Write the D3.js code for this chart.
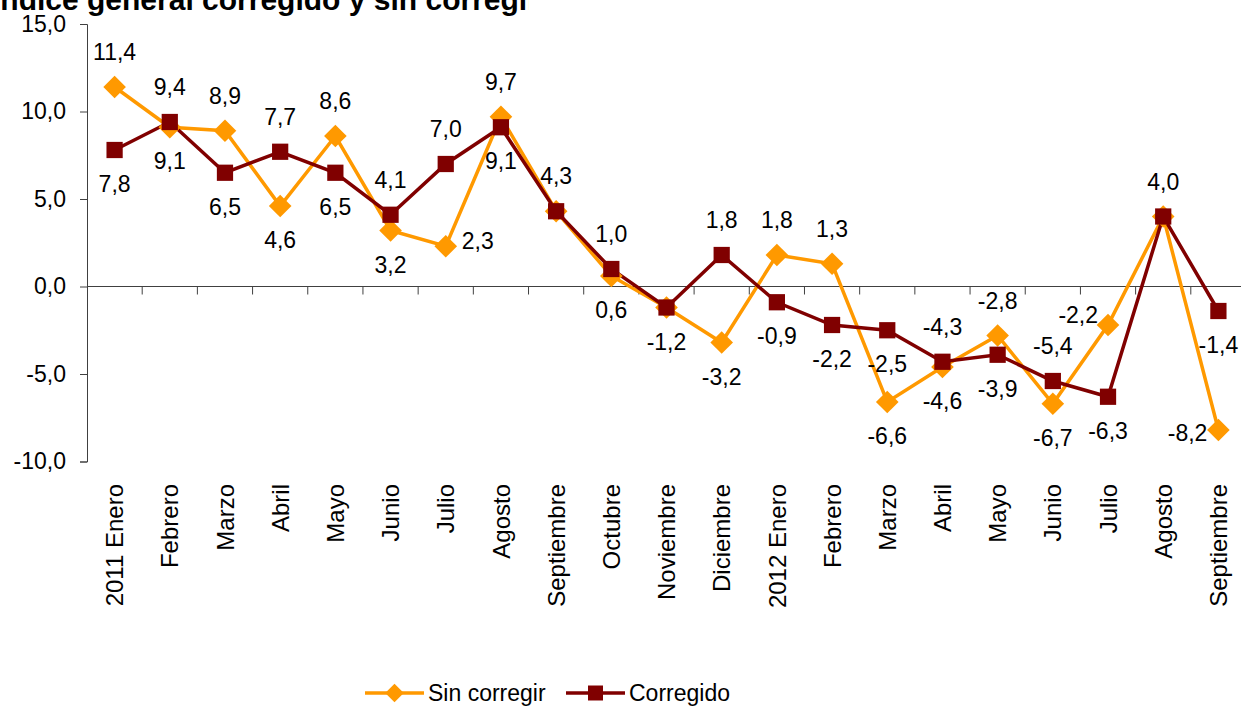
<!DOCTYPE html>
<meta charset="utf-8">
<title>Índice general corregido y sin corregir</title>
<style>
body { margin: 0; background: #fff; font-family: Arial, "Liberation Sans", sans-serif; }
svg { display: block; }
.axis path, .axis line { stroke: #404040; }
.lbl { font-size: 23px; fill: #000; }
</style>
<body>
<div id="chart"></div>
</body>
<script src="https://cdn.jsdelivr.net/npm/d3@7"></script>
<script>

var meses = ['2011 Enero','Febrero','Marzo','Abril','Mayo','Junio','Julio','Agosto','Septiembre',
  'Octubre','Noviembre','Diciembre','2012 Enero','Febrero','Marzo','Abril','Mayo','Junio','Julio',
  'Agosto','Septiembre']
var sinCorregir = [11.4, 9.1, 8.9, 4.6, 8.6, 3.2, 2.3, 9.7, 4.3, 0.6, -1.2, -3.2, 1.8, 1.3, -6.6,
  -4.6, -2.8, -6.7, -2.2, 4.0, -8.2]
var corregido = [7.8, 9.4, 6.5, 7.7, 6.5, 4.1, 7.0, 9.1, 4.3, 1.0, -1.2, 1.8, -0.9, -2.2, -2.5,
  -4.3, -3.9, -5.4, -6.3, 4.0, -1.4]
var yTicks = [-10, -5, 0, 5, 10, 15]

// where each data label sits: a above, b below, r right, l left, ul upper-left, '' none
var posSin = ['a','b','a','b','a','b','r','a','a','b','b','b','a','a','b','b','a','b','ul','a','l']
var posCor = ['b','a','b','a','b','a','a','b','','a','','a','b','b','b','a','b','a','b','','b']

var W = 1241, H = 706
var svg = d3.select('#chart').append('svg').attr('width', W).attr('height', H)

var x = d3.scaleBand().domain(d3.range(meses.length)).range([87, 1246])
var y = d3.scaleLinear().domain([-10, 15]).range([461.5, 24])
var fmt = function(v){ return d3.format('.1f')(v).replace('.', ',').replace('−', '-') }
var cx = function(i){ return x(i) + x.bandwidth()/2 }

// title, clipped like the original text box
svg.append('clipPath').attr('id', 'tclip')
  .append('rect').attr('x', 0).attr('y', 0).attr('width', 529).attr('height', 30)
svg.append('text')
  .attr('clip-path', 'url(#tclip)')
  .attr('x', -8).attr('y', 10)
  .style('font-size', '30px').style('font-weight', 'bold')
  .text('Índice general corregido y sin corregir')

// y axis
var yAxis = svg.append('g').attr('class', 'axis')
  .attr('transform', 'translate(87,0)')
  .call(d3.axisLeft(y).tickValues(yTicks).tickSize(7).tickPadding(14).tickFormat(fmt))
yAxis.selectAll('text').style('font-size', '23px').attr('fill', '#000')
  .style('font-family', 'Arial, "Liberation Sans", sans-serif')

// x axis at zero, ticks between categories
var xg = svg.append('g').attr('class', 'axis')
xg.append('line').attr('x1', 87).attr('x2', W).attr('y1', y(0)).attr('y2', y(0))
xg.selectAll('line.tk').data(d3.range(1, meses.length + 1)).join('line')
  .attr('class', 'tk')
  .attr('x1', function(d){ return 87 + d * x.bandwidth() })
  .attr('x2', function(d){ return 87 + d * x.bandwidth() })
  .attr('y1', y(0)).attr('y2', y(0) + 8)

svg.selectAll('text.cat').data(meses).join('text')
  .attr('class', 'cat')
  .attr('transform', function(d, i){ return 'translate(' + cx(i) + ',484) rotate(-90)' })
  .attr('text-anchor', 'end').attr('dy', '0.36em')
  .style('font-size', '24px')
  .text(function(d){ return d })

var line = d3.line().x(function(d, i){ return cx(i) }).y(function(d){ return y(d) })

var series = [
  {vals: sinCorregir, pos: posSin, color: '#FF9900', shape: 'diamond'},
  {vals: corregido, pos: posCor, color: '#800000', shape: 'square'}
]

var diamond = d3.symbol(d3.symbolSquare, 256)()
var square = d3.symbol(d3.symbolSquare, 264)()

series.forEach(function(s){
  svg.append('path').datum(s.vals)
    .attr('d', line).attr('fill', 'none')
    .attr('stroke', s.color).attr('stroke-width', 3.5)
})
series.forEach(function(s){
  svg.selectAll(null).data(s.vals).join('path')
    .attr('d', s.shape === 'diamond' ? diamond : square)
    .attr('fill', s.color)
    .attr('transform', function(d, i){
      return 'translate(' + cx(i) + ',' + y(d) + ')' + (s.shape === 'diamond' ? ' rotate(45)' : '')
    })
})

series.forEach(function(s){
  var pts = s.vals.map(function(v, i){ return {v: v, i: i, p: s.pos[i]} })
    .filter(function(d){ return d.p })
  svg.selectAll(null).data(pts).join('text')
    .attr('class', 'lbl')
    .attr('x', function(d){
      if (d.p === 'r') return cx(d.i) + 16
      if (d.p === 'l') return cx(d.i) - 11
      if (d.p === 'ul') return cx(d.i) - 10
      return cx(d.i)
    })
    .attr('y', function(d){
      if (d.p === 'a') return y(d.v) - 27
      if (d.p === 'b') return y(d.v) + 42
      if (d.p === 'r') return y(d.v) + 3
      if (d.p === 'l') return y(d.v) + 11
      return y(d.v) - 2
    })
    .attr('text-anchor', function(d){
      return d.p === 'r' ? 'start' : (d.p === 'l' || d.p === 'ul') ? 'end' : 'middle'
    })
    .text(function(d){ return fmt(d.v) })
})

// legend
var lg = svg.append('g').attr('transform', 'translate(0,693)')
var items = [
  {name: 'Sin corregir', x: 365, color: '#FF9900', shape: 'diamond'},
  {name: 'Corregido', x: 566, color: '#800000', shape: 'square'}
]
items.forEach(function(it){
  lg.append('line').attr('x1', it.x).attr('x2', it.x + 59)
    .attr('stroke', it.color).attr('stroke-width', 3.5)
  lg.append('path')
    .attr('d', d3.symbol(d3.symbolSquare, it.shape === 'diamond' ? 170 : 225)())
    .attr('fill', it.color)
    .attr('transform', 'translate(' + (it.x + 29.5) + ',0)' + (it.shape === 'diamond' ? ' rotate(45)' : ''))
  lg.append('text').attr('x', it.x + 63).attr('dy', '0.36em')
    .style('font-size', '23px').text(it.name)
})

</script>
